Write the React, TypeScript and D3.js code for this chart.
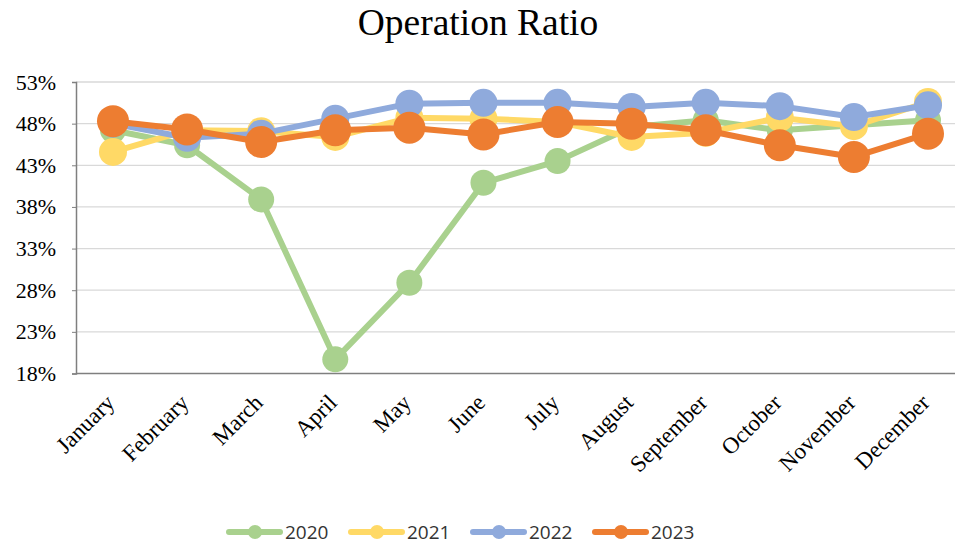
import React, { useEffect, useRef } from "react";
import * as d3 from "d3";

const months = [
  "January", "February", "March", "April", "May", "June",
  "July", "August", "September", "October", "November", "December",
];
const years = ["2020", "2021", "2022", "2023"];
const colors = ["#A9D18E", "#FFD966", "#8FAADC", "#ED7D31"];

const v2020 = [47.2, 45.4, 38.9, 19.7, 28.9, 40.9, 43.5, 47.6, 48.4, 47.2, 47.8, 48.4];
const v2021 = [44.6, 47.2, 47.1, 46.4, 48.7, 48.6, 48.2, 46.4, 46.9, 48.7, 47.7, 50.6];
const v2022 = [48.0, 46.3, 46.8, 48.6, 50.4, 50.5, 50.5, 50.0, 50.5, 50.1, 48.8, 50.2];
const v2023 = [48.3, 47.3, 45.8, 47.2, 47.5, 46.7, 48.2, 48.0, 47.2, 45.4, 44.0, 46.8];
const series = [v2020, v2021, v2022, v2023];

const yTicks = [18, 23, 28, 33, 38, 43, 48, 53];

const W = 955;
const H = 545;

function drawChart(el: SVGSVGElement) {
  const svg = d3.select(el);
  svg.selectAll("*").remove();

  const x = d3.scalePoint().domain(months).range([113, 928]);
  const y = d3.scaleLinear().domain([18, 53]).range([373.5, 82]);

  svg
    .append("text")
    .attr("x", 478)
    .attr("y", 35)
    .attr("text-anchor", "middle")
    .attr("font-family", "'Liberation Serif', serif")
    .attr("font-size", 37.5)
    .attr("fill", "#000")
    .text("Operation Ratio");

  // gridlines
  svg
    .append("g")
    .selectAll("line")
    .data(yTicks.slice(1))
    .enter()
    .append("line")
    .attr("x1", 76)
    .attr("x2", W)
    .attr("y1", d => y(d))
    .attr("y2", d => y(d))
    .attr("stroke", "#d9d9d9")
    .attr("stroke-width", 1.3);

  // axes
  const yAxis = svg
    .append("g")
    .attr("transform", "translate(76,0)")
    .call(
      d3
        .axisLeft(y)
        .tickValues(yTicks)
        .tickSize(4)
        .tickFormat(d => `${d}%`)
    );
  yAxis.select(".domain").attr("stroke", "#7f7f7f").attr("stroke-width", 1.5);
  yAxis.selectAll(".tick line").attr("stroke", "#7f7f7f");
  yAxis
    .selectAll(".tick text")
    .attr("x", -20)
    .attr("font-family", "'Liberation Serif', serif")
    .attr("font-size", 22)
    .attr("fill", "#000");

  svg
    .append("line")
    .attr("x1", 76)
    .attr("x2", W)
    .attr("y1", y(18))
    .attr("y2", y(18))
    .attr("stroke", "#7f7f7f")
    .attr("stroke-width", 1.5);

  svg
    .append("g")
    .selectAll("text")
    .data(months)
    .enter()
    .append("text")
    .attr("transform", d => `translate(${(x(d) as number) + 3},${404}) rotate(-45)`)
    .attr("text-anchor", "end")
    .attr("font-family", "'Liberation Serif', serif")
    .attr("font-size", 23)
    .attr("fill", "#000")
    .text(d => d);

  const line = d3
    .line<number>()
    .x((_, i) => x(months[i]) as number)
    .y(d => y(d));

  const radii = [13, 14, 14, 16];

  series.forEach((vals, si) => {
    const g = svg.append("g");
    g.append("path")
      .datum(vals)
      .attr("d", line)
      .attr("fill", "none")
      .attr("stroke", colors[si])
      .attr("stroke-width", 6)
      .attr("stroke-linejoin", "round");
    g.selectAll("circle")
      .data(vals)
      .enter()
      .append("circle")
      .attr("cx", (_, i) => x(months[i]) as number)
      .attr("cy", d => y(d))
      .attr("r", radii[si])
      .attr("fill", colors[si]);
  });

  // legend
  const legend = svg
    .append("g")
    .selectAll("g")
    .data(years)
    .enter()
    .append("g")
    .attr("transform", (_, i) => `translate(${229 + i * 122},532)`);
  legend
    .append("line")
    .attr("x1", 0)
    .attr("x2", 51)
    .attr("stroke", (_, i) => colors[i])
    .attr("stroke-width", 6)
    .attr("stroke-linecap", "round");
  legend
    .append("circle")
    .attr("cx", 26)
    .attr("r", 7)
    .attr("fill", (_, i) => colors[i]);
  legend
    .append("text")
    .attr("x", 56)
    .attr("y", 7)
    .attr("font-family", "'Open Sans', sans-serif")
    .attr("font-size", 19)
    .attr("fill", "#333")
    .text(d => d);
}

export default function App() {
  const ref = useRef<SVGSVGElement>(null);
  useEffect(() => {
    if (ref.current) drawChart(ref.current);
  }, []);
  return (
    <svg
      ref={ref}
      width={W}
      height={H}
      style={{ position: "absolute", left: 0, top: 0, background: "#fff" }}
    />
  );
}
